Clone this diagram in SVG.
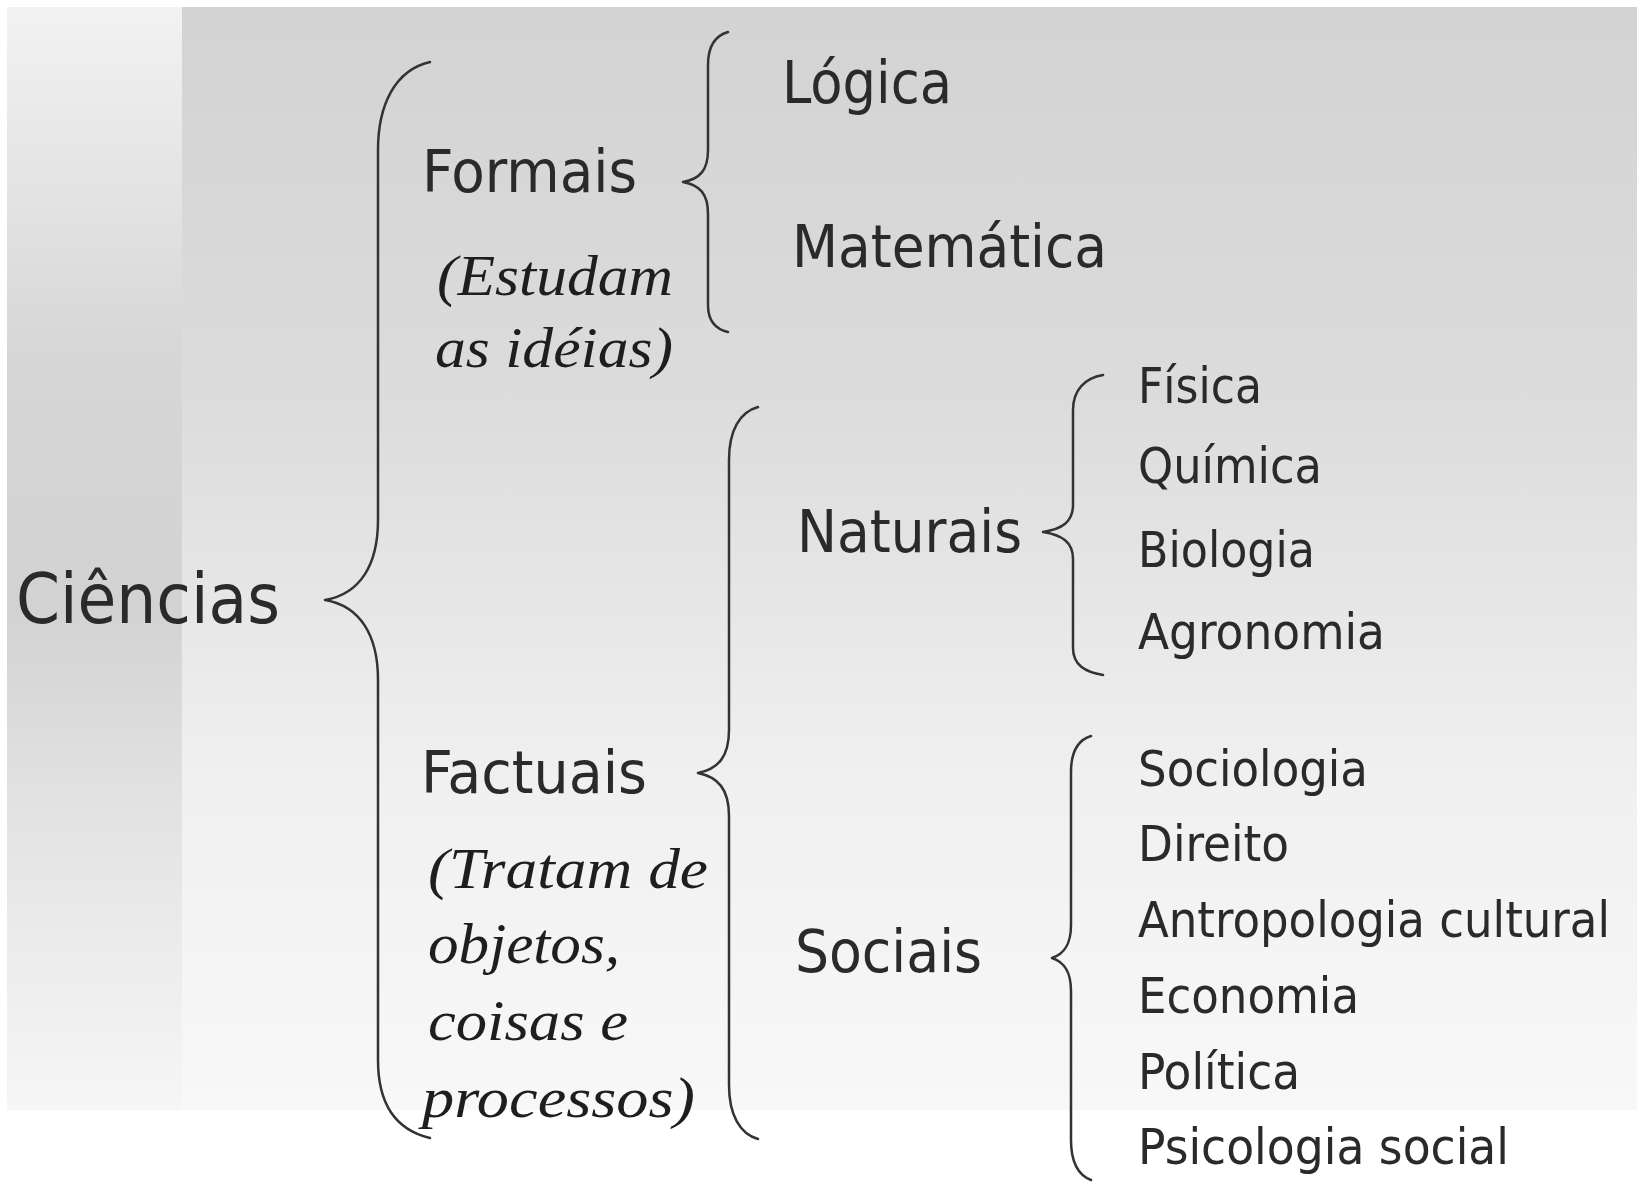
<svg xmlns="http://www.w3.org/2000/svg" width="1637" height="1183" viewBox="0 0 1637 1183">
<defs>
<linearGradient id="gMain" x1="0" y1="0" x2="0" y2="1">
<stop offset="0" stop-color="#d3d3d3"/>
<stop offset="0.36" stop-color="#dcdcdc"/>
<stop offset="0.7" stop-color="#f0f0f0"/>
<stop offset="1" stop-color="#f8f8f8"/>
</linearGradient>
<linearGradient id="gLeft" x1="0" y1="0" x2="0" y2="1">
<stop offset="0" stop-color="#f2f2f2"/>
<stop offset="0.32" stop-color="#d6d6d6"/>
<stop offset="0.54" stop-color="#d2d2d2"/>
<stop offset="0.72" stop-color="#e2e2e2"/>
<stop offset="0.9" stop-color="#efefef"/>
<stop offset="1" stop-color="#f6f6f6"/>
</linearGradient>
<style>
.s{font-family:"DejaVu Sans Condensed","DejaVu Sans","Liberation Sans",sans-serif;fill:#2a2a2a}
.big{font-size:70px}
.mid{font-size:59px}
.sm{font-size:49px}
.it{font-family:"Liberation Serif",serif;font-style:italic;font-size:56px;fill:#1e1e1e}
.br{fill:none;stroke:#333;stroke-width:2.5;stroke-linecap:round;stroke-linejoin:round}
</style>
</defs>
<rect x="0" y="0" width="1637" height="1183" fill="#ffffff"/>
<rect x="7" y="7" width="1630" height="1103" fill="url(#gMain)"/>
<rect x="7" y="7" width="175" height="1103" fill="url(#gLeft)"/>

<g id="connectors">
<path class="br" d="M430,62 C395,70 378,105 378,150 L378,520 C378,565 360,594 325,600 C360,606 378,635 378,680 L378,1060 C378,1105 396,1130 430,1138"/>
<path class="br" d="M728,32 C714,36 708,48 708,65 L708,150 C708,170 700,179 683,182 C700,185 708,194 708,214 L708,305 C708,320 715,329 728,332"/>
<path class="br" d="M758,407 C740,412 729,430 729,460 L729,730 C729,757 718,769 698,773 C718,777 729,789 729,816 L729,1085 C729,1115 740,1134 758,1139"/>
<path class="br" d="M1103,375 C1085,378 1073,390 1073,410 L1073,505 C1073,522 1062,529 1043,532 C1062,535 1073,542 1073,559 L1073,648 C1073,665 1085,672 1103,675"/>
<path class="br" d="M1091,736 C1078,740 1071,752 1071,772 L1071,925 C1071,945 1064,954 1052,958 C1064,962 1071,971 1071,991 L1071,1140 C1071,1162 1078,1175 1091,1180"/>
</g>

<g id="ciencias"><text class="s big" x="16" y="623" textLength="264" lengthAdjust="spacingAndGlyphs">Ciências</text></g>

<g id="formais">
<text class="s mid" x="422" y="192" textLength="215" lengthAdjust="spacingAndGlyphs">Formais</text>
<text class="it" x="437" y="295" textLength="236" lengthAdjust="spacingAndGlyphs">(Estudam</text>
<text class="it" x="435" y="367" textLength="238" lengthAdjust="spacingAndGlyphs">as idéias)</text>
</g>

<g id="factuais">
<text class="s mid" x="421" y="793" textLength="226" lengthAdjust="spacingAndGlyphs">Factuais</text>
<text class="it" x="428" y="888" textLength="280" lengthAdjust="spacingAndGlyphs">(Tratam de</text>
<text class="it" x="428" y="963" textLength="192" lengthAdjust="spacingAndGlyphs">objetos,</text>
<text class="it" x="428" y="1040" textLength="200" lengthAdjust="spacingAndGlyphs">coisas e</text>
<text class="it" x="422" y="1117" textLength="273" lengthAdjust="spacingAndGlyphs">processos)</text>
</g>

<g id="logica"><text class="s mid" x="782" y="103" textLength="170" lengthAdjust="spacingAndGlyphs">Lógica</text></g>
<g id="matematica"><text class="s mid" x="792" y="267" textLength="315" lengthAdjust="spacingAndGlyphs">Matemática</text></g>
<g id="naturais"><text class="s mid" x="797" y="552" textLength="225" lengthAdjust="spacingAndGlyphs">Naturais</text></g>
<g id="sociais"><text class="s mid" x="795" y="972" textLength="187" lengthAdjust="spacingAndGlyphs">Sociais</text></g>

<g id="fisica"><text class="s sm" x="1138" y="403" textLength="124" lengthAdjust="spacingAndGlyphs">Física</text></g>
<g id="quimica"><text class="s sm" x="1138" y="483" textLength="184" lengthAdjust="spacingAndGlyphs">Química</text></g>
<g id="biologia"><text class="s sm" x="1138" y="567" textLength="177" lengthAdjust="spacingAndGlyphs">Biologia</text></g>
<g id="agronomia"><text class="s sm" x="1138" y="649" textLength="247" lengthAdjust="spacingAndGlyphs">Agronomia</text></g>

<g id="sociologia"><text class="s sm" x="1138" y="786" textLength="230" lengthAdjust="spacingAndGlyphs">Sociologia</text></g>
<g id="direito"><text class="s sm" x="1138" y="861" textLength="151" lengthAdjust="spacingAndGlyphs">Direito</text></g>
<g id="antropologia"><text class="s sm" x="1138" y="937" textLength="472" lengthAdjust="spacingAndGlyphs">Antropologia cultural</text></g>
<g id="economia"><text class="s sm" x="1138" y="1013" textLength="221" lengthAdjust="spacingAndGlyphs">Economia</text></g>
<g id="politica"><text class="s sm" x="1138" y="1089" textLength="162" lengthAdjust="spacingAndGlyphs">Política</text></g>
<g id="psicologia"><text class="s sm" x="1138" y="1164" textLength="371" lengthAdjust="spacingAndGlyphs">Psicologia social</text></g>
</svg>
